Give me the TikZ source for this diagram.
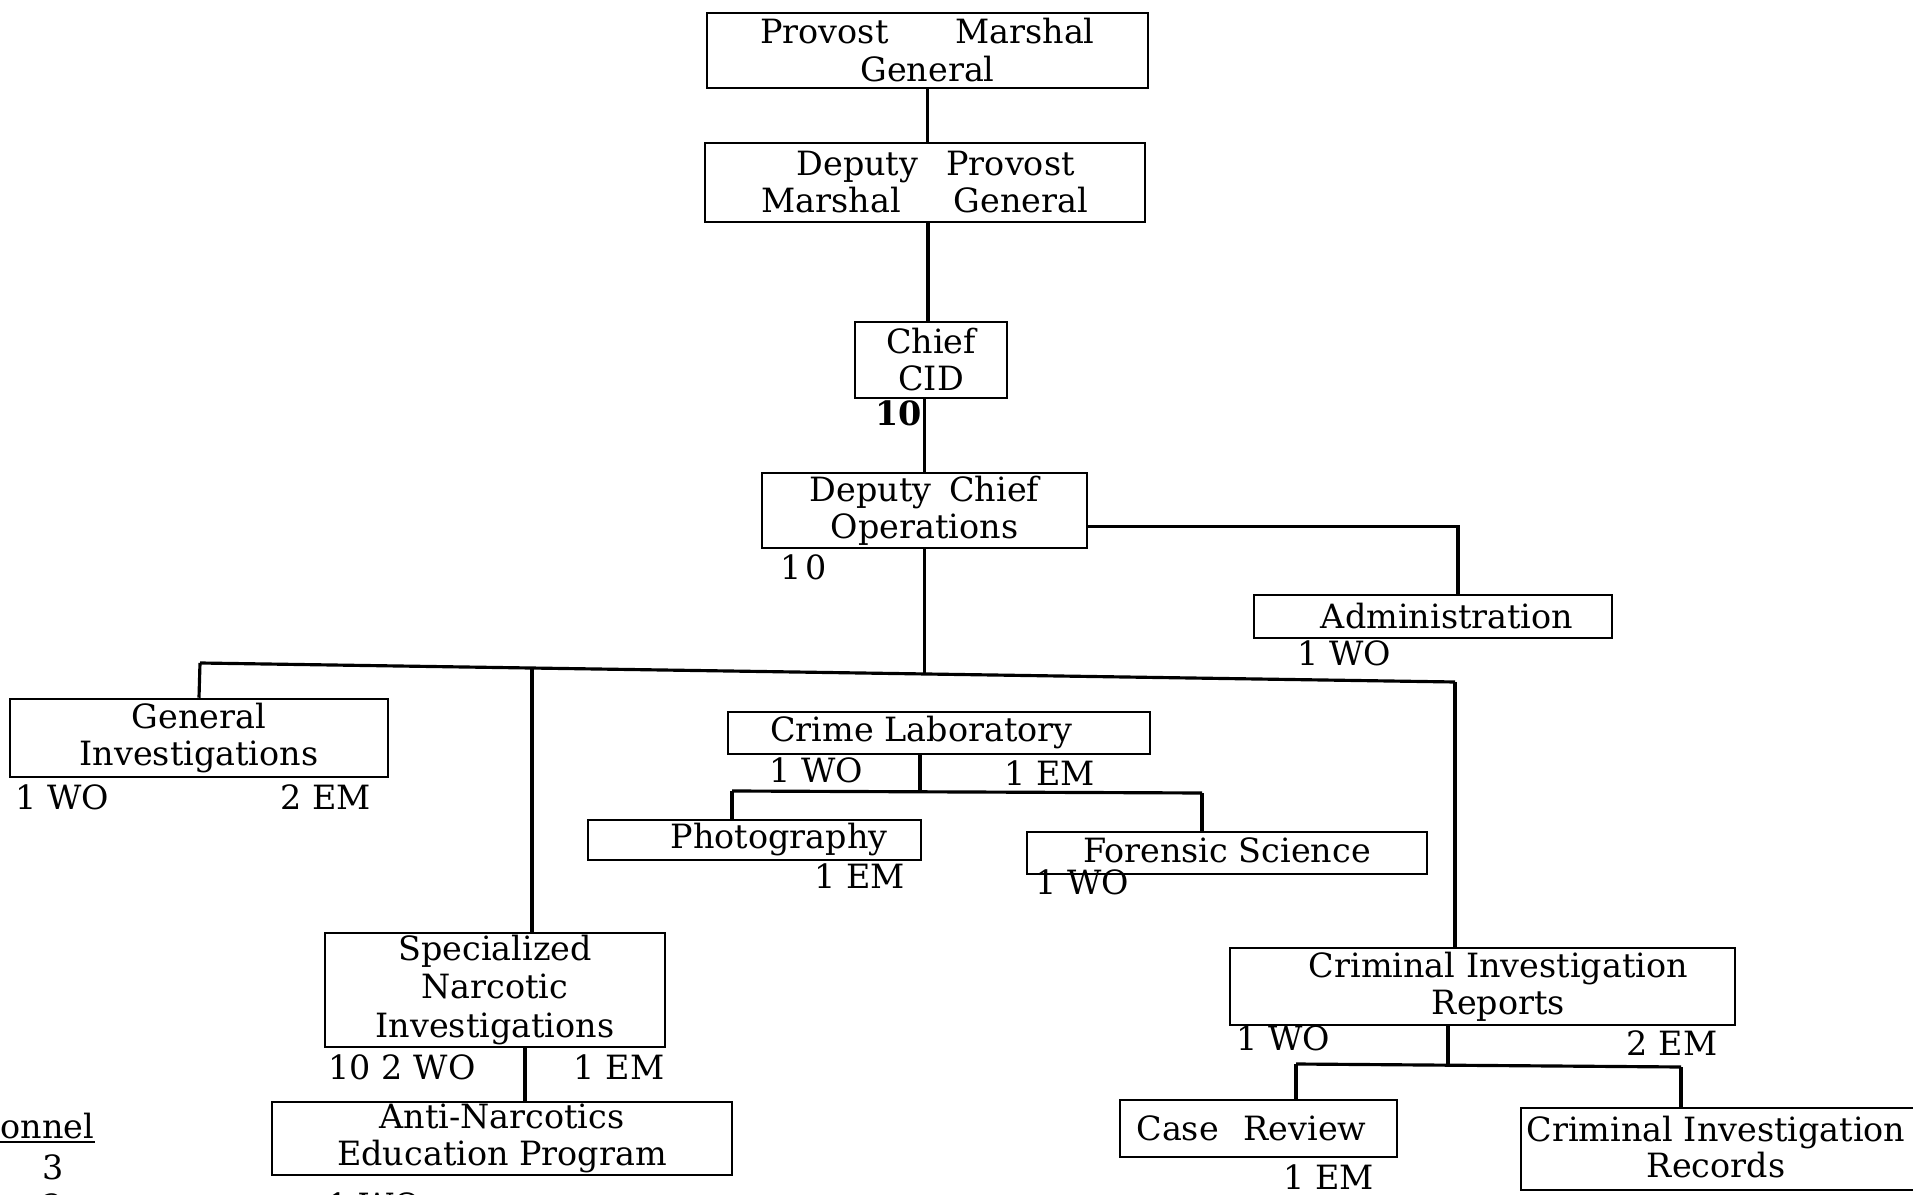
\documentclass[tikz,border=0pt]{standalone}
\usepackage{fontspec}
\setmainfont{DejaVu Serif}
\usetikzlibrary{calc}
\tikzset{
  box/.style={draw, line width=0.7pt, inner sep=0pt, align=center,
    font=\fontsize{9.5}{10.5}\selectfont},
  lbl/.style={inner sep=0pt, font=\fontsize{9.5}{10.5}\selectfont},
  conn/.style={line width=0.9pt},
}
\begin{document}
\begin{tikzpicture}[x=0.01cm,y=-0.01cm]
\useasboundingbox (0,0) rectangle (1913,1195);
\clip (0,0) rectangle (1913,1195);
\fill[white] (0,0) rectangle (1913,1195);

% boxes
\node[box, minimum width=4.41cm, minimum height=0.75cm] (pmg) at (927.5,50.5)
  {Provost\hspace{16pt} Marshal\\[0.3pt] General};
\node[box, minimum width=4.40cm, minimum height=0.79cm] (dpmg) at (925,182.5)
  {\hspace{6pt}Deputy\hspace{5pt} Provost\\ Marshal\hspace{12pt} General};
\node[box, minimum width=1.52cm, minimum height=0.76cm] (chief) at (931,360)
  {Chief\\ CID};
\node[box, minimum width=3.25cm, minimum height=0.75cm] (dco) at (924.5,510.5)
  {Deputy\hspace{2pt} Chief\\ Operations};
\node[box, minimum width=3.58cm, minimum height=0.43cm] (admin) at (1433,616.5)
  {\hspace{8pt}Administration};
\node[box, minimum width=3.78cm, minimum height=0.78cm] (gi) at (199,738)
  {General\hspace{42pt}\\ Investigations};
\node[box, minimum width=4.22cm, minimum height=0.42cm] (crimelab) at (939,733)
  {Crime Laboratory\hspace{10pt}};
\node[box, minimum width=3.33cm, minimum height=0.40cm] (photo) at (754.5,840)
  {\hspace{14pt}Photography};
\node[box, minimum width=4.00cm, minimum height=0.42cm] (forensic) at (1227,853)
  {\raisebox{1.5pt}{Forensic Science}};
\node[box, minimum width=3.40cm, minimum height=1.14cm] (sni) at (495,990)
  {Specialized\hspace{40pt}\\[0.5pt] Narcotic\hspace{10pt}\\[0.5pt] Investigations};
\node[box, minimum width=4.60cm, minimum height=0.73cm] (aned) at (502,1138.5)
  {Anti-Narcotics\hspace{10pt}\\ Education Program\hspace{6pt}};
\node[box, minimum width=5.05cm, minimum height=0.77cm] (cir) at (1482.5,986.5)
  {\hspace{9pt}Criminal Investigation\\ \hspace{9pt}Reports};
\node[box, minimum width=2.77cm, minimum height=0.57cm] (case) at (1258.5,1128.5)
  {Case\hspace{4pt} Review\hspace{4pt}};
\node[box, minimum width=4.19cm, minimum height=0.82cm] (records) at (1730.5,1149) {};
\node[lbl, align=center] (recordstxt) at (1716,1147)
  {Criminal Investigation\\ Records\hspace{8pt}};

% labels
\node[lbl, anchor=west, font=\fontsize{9.5}{10.5}\selectfont\bfseries] (l10a) at (875,413) {10};
\node[lbl, anchor=west] (l10b) at (780,567) {1\hspace{1pt}0};
\node[lbl, anchor=west] (ladm) at (1297,653) {1 WO};
\node[lbl, anchor=west] (lgi1) at (15,797) {1 WO};
\node[lbl, anchor=west] (lgi2) at (280,797) {2 EM};
\node[lbl, anchor=west] (lcl1) at (769,770) {1 WO};
\node[lbl, anchor=west] (lcl2) at (1004,773) {1 EM};
\node[lbl, anchor=west] (lph) at (814,876) {1 EM};
\node[lbl, anchor=west] (lfs) at (1035,882) {1 WO};
\node[lbl, anchor=west] (lsn1) at (328,1067) {10 2 WO};
\node[lbl, anchor=east] (lsn2) at (665,1067) {1 EM};
\node[lbl, anchor=west] (lan) at (327,1205) {1 WO};
\node[lbl, anchor=west] (lcir1) at (1236,1038) {1 WO};
\node[lbl, anchor=east] (lcir2) at (1718,1043) {2 EM};
\node[lbl, anchor=west] (lcase) at (1283,1177) {1 EM};
\node[lbl, anchor=west] (lpers) at (0,1126) {onnel};
\draw[line width=0.6pt] (0,1142) -- (lpers.east |- 0,1142);
\node[lbl] (lp3) at (53,1167) {3};
\node[lbl] (lp2) at (53,1206) {2};

% connectors
\draw[conn] (pmg.south) -- (pmg.south |- dpmg.north);
\draw[conn] ($(dpmg.south)+(3,0)$) -- ($(dpmg.south |- chief.north)+(3,0)$);
\draw[conn] (dco.north |- chief.south) -- (dco.north);
\coordinate (dcoe) at ($(dco.east)+(0,16)$);
\coordinate (admtop) at ($(admin.north)+(25,0)$);
\draw[conn] (dcoe) -| (admtop);

\coordinate (busL) at (200,663);
\coordinate (busR) at (1455,682);
\coordinate (busM) at (924.5,674);
\coordinate (busS) at (532,668);
\draw[conn] (busL) -- (busR);
\draw[conn] (dco.south) -- (busM);
\draw[conn] (busL) -- (gi.north);
\draw[conn] (busS) -- (busS |- sni.north);
\draw[conn] (busR) -- (busR |- cir.north);

\coordinate (clbus) at (920,792);
\coordinate (clL) at (732,791);
\coordinate (clR) at (1202,793);
\draw[conn] (clbus |- crimelab.south) -- (clbus);
\draw[conn] (clL) -- (clR);
\draw[conn] (clL) -- (clL |- photo.north);
\draw[conn] (clR) -- (clR |- forensic.north);

\draw[conn] ($(sni.south)+(30,0)$) -- ($(sni.south |- aned.north)+(30,0)$);

\coordinate (cirbus) at (1448,1064);
\coordinate (cirL) at (1296,1064);
\coordinate (cirR) at (1681,1067);
\draw[conn] (cirbus |- cir.south) -- (cirbus);
\draw[conn] (cirL) -- (cirR);
\draw[conn] (cirL) -- (cirL |- case.north);
\draw[conn] (cirR) -- (cirR |- records.north);
\end{tikzpicture}
\end{document}
